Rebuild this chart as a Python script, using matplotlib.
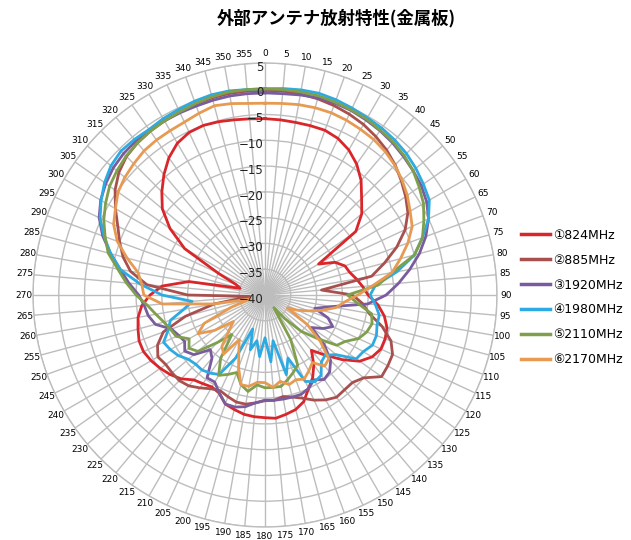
import numpy as np
import matplotlib
matplotlib.use("Agg")
import matplotlib.pyplot as plt

plt.rcParams['font.family'] = ['DejaVu Sans']

title = '外部アンテナ放射特性(金属板)'
angles_deg = list(range(0, 360, 5))
series_labels = ['①824MHz', '②885MHz', '③1920MHz', '④1980MHz', '⑤2110MHz', '⑥2170MHz']
series_colors = ['#D9262B', '#A8504E', '#7A5C9E', '#2DAAE1', '#7F9F4C', '#E69A52']
radial_ticks = [5, 0, -5, -10, -15, -20, -25, -30, -35, -40]

s824 = [-5.8, -5.9, -6.0, -6.0, -6.0, -6.5, -7.5, -9.0, -11.0, -13.5, -15.5, -18.5,
        -28.0, -25.0, -23.5, -23.0, -22.0, -21.0, -20.0, -18.0, -16.5, -15.5, -15.2, -15.2,
        -16.0, -17.6, -20.5, -23.5, -26.0, -23.5, -21.5, -20.0, -18.0, -17.0, -16.5, -16.0,
        -16.2, -16.3, -16.5, -17.0, -17.5, -19.0, -19.4, -19.0, -18.5, -17.0, -16.0, -15.2,
        -14.5, -14.0, -14.0, -14.5, -15.0, -16.0, -17.7, -20.0, -25.0, -35.0, -34.0, -30.0,
        -22.0, -17.5, -14.0, -11.7, -9.5, -7.5, -6.0, -5.2, -5.0, -5.2, -5.5, -5.7]
s885 = [-0.3, -0.3, -0.4, -0.6, -0.9, -1.3, -1.8, -2.5, -3.3, -4.3, -5.5, -6.7,
        -8.0, -10.0, -12.8, -16.0, -19.0, -29.0, -23.0, -21.0, -19.5, -16.5, -14.0, -12.7,
        -12.5, -12.4, -15.0, -16.0, -16.0, -15.8, -16.5, -17.5, -18.7, -19.5, -20.0, -19.5,
        -19.5, -19.0, -18.5, -18.5, -19.0, -19.5, -19.0, -18.0, -17.0, -16.5, -16.5, -16.5,
        -16.0, -17.0, -19.0, -24.0, -30.0, -37.0, -25.0, -17.0, -13.5, -11.5, -10.0, -8.5,
        -6.5, -4.5, -3.0, -2.0, -1.5, -1.2, -1.0, -0.8, -0.6, -0.4, -0.3, -0.3]
s1920 = [-0.8, -0.8, -0.6, -0.4, -0.4, -0.5, -0.8, -1.1, -1.5, -2.0, -2.5, -3.0,
         -3.8, -5.0, -6.8, -9.0, -11.5, -14.0, -16.5, -20.0, -27.0, -30.0, -27.0, -25.5,
         -27.0, -29.0, -25.0, -22.0, -20.5, -20.0, -21.0, -20.0, -19.5, -19.5, -19.5, -19.5,
         -19.6, -19.0, -18.0, -17.5, -17.5, -19.0, -20.5, -20.4, -24.0, -25.0, -22.0, -21.0,
         -22.0, -21.5, -20.7, -18.0, -17.0, -16.5, -15.5, -13.5, -11.5, -9.0, -6.5, -4.5,
         -3.2, -2.3, -1.6, -1.2, -1.0, -1.0, -1.0, -1.0, -1.0, -0.9, -0.8, -0.8]
s1980 = [0.0, 0.2, 0.4, 0.5, 0.3, 0.0, -0.3, -0.5, -0.8, -1.2, -1.8, -2.5,
         -3.2, -5.0, -7.5, -10.0, -14.0, -18.5, -19.6, -18.5, -17.5, -17.5, -17.0, -17.0,
         -18.0, -18.4, -22.0, -23.5, -23.0, -21.0, -20.6, -21.5, -27.0, -24.0, -31.0, -27.0,
         -31.7, -28.0, -31.0, -29.0, -33.0, -26.5, -22.2, -21.5, -21.0, -21.0, -20.6, -19.5,
         -18.8, -18.3, -20.0, -21.0, -24.0, -25.8, -20.0, -15.7, -11.5, -9.0, -6.8, -4.7,
         -3.3, -2.0, -1.0, -0.5, -0.6, -0.8, -0.5, -0.3, 0.0, 0.2, 0.2, 0.0]
s2110 = [0.0, 0.0, 0.0, 0.0, -0.2, -0.4, -0.6, -1.0, -1.3, -1.8, -2.5, -3.5,
         -4.5, -6.0, -7.5, -10.0, -15.0, -18.0, -24.0, -22.0, -19.0, -18.5, -19.0, -20.0,
         -22.0, -23.0, -27.0, -30.0, -34.0, -37.0, -30.0, -25.0, -24.0, -23.0, -22.0, -22.0,
         -22.0, -22.5, -21.0, -22.0, -24.0, -23.0, -22.0, -25.0, -30.0, -27.0, -23.0, -22.0,
         -23.0, -21.0, -20.5, -19.7, -18.5, -17.1, -15.0, -13.0, -11.0, -8.5, -7.0, -5.5,
         -4.3, -3.2, -2.5, -1.9, -1.5, -1.2, -1.0, -0.8, -0.5, -0.2, 0.0, 0.0]
s2170 = [-2.8, -2.7, -2.5, -2.4, -2.4, -2.6, -2.9, -3.2, -3.7, -4.4, -5.3, -6.3,
         -7.5, -8.5, -10.5, -12.8, -15.0, -19.0, -22.0, -24.5, -26.0, -28.5, -31.0, -33.0,
         -35.0, -30.0, -26.0, -22.5, -22.0, -24.0, -23.0, -22.0, -22.5, -22.0, -23.0, -22.0,
         -23.0, -23.0, -22.0, -22.0, -25.0, -28.0, -30.0, -26.0, -27.0, -30.0, -32.0, -28.0,
         -25.0, -27.0, -33.0, -37.0, -30.0, -20.0, -16.5, -16.0, -15.0, -12.3, -9.5, -7.6,
         -6.5, -5.2, -4.5, -4.0, -3.5, -3.3, -3.2, -3.0, -2.5, -2.0, -2.3, -2.7]

series = [s824, s885, s1920, s1980, s2110, s2170]

W, H = 631, 540
fig = plt.figure(figsize=(W / 100, H / 100), dpi=100)
cx, cy, R = 265, 295, 232
ax = fig.add_axes([(cx - R) / W, (H - cy - R) / H, 2 * R / W, 2 * R / H], projection='polar')
ax.set_theta_zero_location('N')
ax.set_theta_direction(-1)
ax.set_ylim(-40, 5)

grid_color = '#BDBDBD'
ax.set_xticks(np.deg2rad(angles_deg))
ax.set_xticklabels([str(a) for a in angles_deg], fontsize=6.5)
ax.tick_params(axis='x', pad=-0.5, length=0)
ax.set_yticks(radial_ticks)
ax.set_yticklabels([])
ax.grid(True, color=grid_color, lw=1.0)
ax.spines['polar'].set_color(grid_color)
ax.spines['polar'].set_linewidth(1.0)

for v in radial_ticks:
    lbl = str(v).replace('-', '\u2212')
    ax.annotate(lbl, xy=(0, v), xytext=(-1, -3), textcoords='offset points',
                ha='right', va='center', fontsize=8.5, color='#222222')

th = np.deg2rad(angles_deg + [angles_deg[0]])
handles = []
for vals, col, lab in zip(series, series_colors, series_labels):
    h, = ax.plot(th, vals + [vals[0]], color=col, lw=2.0, label=lab, solid_joinstyle='round')
    handles.append(h)

fig.text(0.533, 0.967, title, ha='center', va='center', fontsize=12.5,
         fontweight='bold', family=['Noto Sans CJK JP', 'DejaVu Sans'])

leg = fig.legend(handles, series_labels, loc='upper left', bbox_to_anchor=(0.808, 0.597),
                 frameon=False, handlelength=2.3, handletextpad=0.25,
                 labelspacing=0.95, prop={'family': ['DejaVu Sans', 'Noto Sans CJK JP'], 'size': 9})
for ln in leg.get_lines():
    ln.set_linewidth(2.5)

fig.savefig('out.png', dpi=100)
